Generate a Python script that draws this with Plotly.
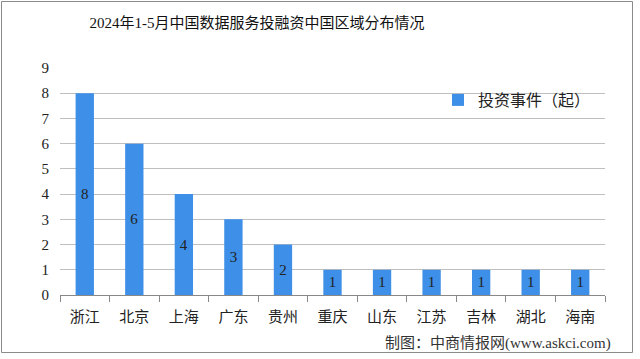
import plotly.graph_objects as go

categories = ["浙江", "北京", "上海", "广东", "贵州", "重庆", "山东", "江苏", "吉林", "湖北", "海南"]
values = [8, 6, 4, 3, 2, 1, 1, 1, 1, 1, 1]
series_name = "投资事件（起）"
title_text = "2024年1-5月中国数据服务投融资中国区域分布情况"
source_text = "制图：中商情报网(www.askci.com)"

FONT = "Liberation Serif, Noto Sans CJK SC, serif"
BAR = "#3d8fe8"

L, R, T, B = 60, 35, 68, 64
W, H = 640, 359
pw, ph = W - L - R, H - T - B

def px_x(x):
    return (x - L) / pw

def px_y(y):
    return (H - B - y) / ph

fig = go.Figure()
fig.add_trace(go.Bar(
    x=categories, y=values, name=series_name,
    marker=dict(color=BAR, line=dict(width=0)),
    text=[str(v) for v in values], textposition="inside",
    insidetextanchor="middle",
    textfont=dict(family=FONT, size=15, color="#222222"),
    showlegend=True,
))

fig.update_layout(
    width=W, height=H,
    margin=dict(l=L, r=R, t=T, b=B),
    paper_bgcolor="white", plot_bgcolor="white",
    bargap=0.63,
    font=dict(family=FONT, color="#222222"),
    title=dict(text=title_text, x=257 / W, xanchor="center",
               y=1 - 23 / H, yanchor="middle",
               font=dict(family=FONT, size=15, color="#111111")),
    xaxis=dict(
        showline=True, linecolor="#888888", linewidth=1,
        ticks="outside", tickcolor="#888888", ticklen=6,
        tickson="boundaries",
        ticklabelstandoff=8,
        tickfont=dict(family=FONT, size=15, color="#222222"),
        showgrid=False,
    ),
    yaxis=dict(
        range=[0, 9], dtick=1, tick0=0,
        showgrid=True, gridcolor="#bfbfbf", gridwidth=1,
        showline=False, zeroline=False, ticks="",
        ticklabelstandoff=10,
        tickfont=dict(family=FONT, size=15, color="#222222"),
    ),
    legend=dict(x=px_x(438), y=px_y(100), xanchor="left", yanchor="middle",
                bgcolor="rgba(255,255,255,0)",
                font=dict(family=FONT, size=16, color="#222222"),
                itemwidth=30),
    annotations=[dict(
        text=source_text, xref="paper", yref="paper",
        x=px_x(613), y=px_y(343), xanchor="right", yanchor="middle",
        showarrow=False, font=dict(family=FONT, size=15, color="#333333"),
    )],
    shapes=[dict(
        type="rect", xref="paper", yref="paper",
        x0=px_x(1.5), x1=px_x(632.5), y0=px_y(352.5), y1=px_y(1.5),
        line=dict(color="#8a8a8a", width=1), fillcolor="rgba(0,0,0,0)",
        layer="above",
    )],
)

fig.write_html(
    "out.html",
    config={"displayModeBar": False},
    post_script="document.body.style.margin='0';document.body.style.padding='0';",
)
